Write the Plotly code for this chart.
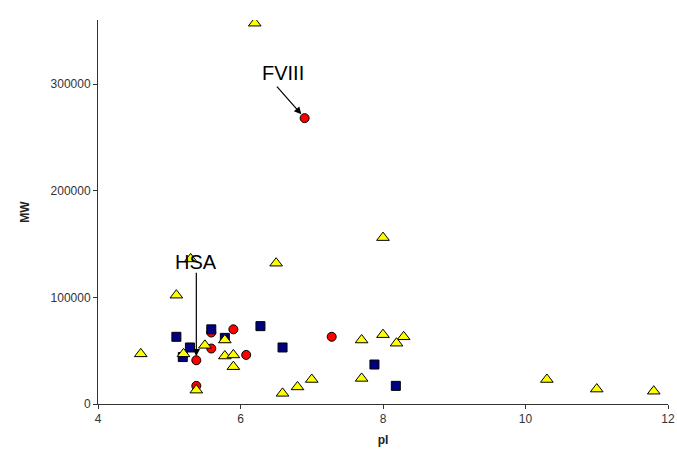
import plotly.graph_objects as go

# Red circles
red_pi = [6.9, 5.38, 5.59, 5.9, 6.08, 5.38, 5.59, 7.28]
red_mw = [268000, 41000, 52000, 70000, 46000, 17000, 67000, 63000]

# Blue squares
blue_pi = [5.1, 5.29, 5.19, 5.59, 5.78, 6.28, 6.59, 7.88, 8.18]
blue_mw = [63000, 53000, 44000, 70000, 62000, 73000, 53000, 37000, 17000]

# Yellow triangles
yel_pi = [6.2, 4.6, 5.1, 5.2, 5.3, 5.5, 5.78, 5.78, 5.9, 5.9, 5.38, 6.5, 6.59,
          8.0, 7.7, 8.0, 8.29, 8.19, 7.7, 7.0, 6.8, 10.3, 11.0, 11.8]
yel_mw = [357000, 47000, 102000, 47000, 136000, 55000, 60000, 45000, 46000, 35000, 13000,
          132000, 10000, 156000, 60000, 65000, 63000, 57000, 24000, 23000, 16000,
          23000, 14000, 12000]

x_ticks = [4, 6, 8, 10, 12]
y_ticks = [0, 100000, 200000, 300000]

fig = go.Figure()
fig.add_trace(go.Scatter(x=red_pi, y=red_mw, mode="markers",
                         marker=dict(symbol="circle", size=9, color="#ff0000",
                                     line=dict(color="#000000", width=1))))
fig.add_trace(go.Scatter(x=blue_pi, y=blue_mw, mode="markers",
                         marker=dict(symbol="square", size=9, color="#000080",
                                     line=dict(color="#000000", width=1))))
fig.add_trace(go.Scatter(x=yel_pi, y=yel_mw, mode="markers",
                         marker=dict(symbol="triangle-up", size=11, color="#ffff00",
                                     line=dict(color="#000000", width=1))))

afont = dict(family="Liberation Sans, Arial, sans-serif", size=20, color="#000000")
# text labels
fig.add_annotation(x=6.6, y=310000, text="FVIII", showarrow=False, font=afont)
fig.add_annotation(x=5.38, y=133000, text="HSA", showarrow=False, font=afont)
# arrows
fig.add_annotation(x=6.9, y=268000, text="", showarrow=True, ax=-29, ay=-33,
                   arrowhead=2, arrowsize=1.2, arrowwidth=1.2, arrowcolor="#000000",
                   standoff=5)
fig.add_annotation(x=5.38, y=41000, text="", showarrow=True, ax=0, ay=-89,
                   arrowhead=2, arrowsize=1.2, arrowwidth=1.2, arrowcolor="#000000",
                   standoff=4)

tfont = dict(family="Liberation Sans, Arial, sans-serif", size=12, color="#333333")
fig.update_layout(
    width=677, height=459,
    margin=dict(l=98, r=9, t=20, b=55),
    paper_bgcolor="white", plot_bgcolor="white",
    showlegend=False,
    xaxis=dict(range=[4, 12], tickvals=x_ticks, ticks="outside", ticklen=4,
               tickcolor="#333333", showline=True, linecolor="#333333", linewidth=1,
               showgrid=False, zeroline=False, tickfont=tfont, automargin=False,
               title=dict(text="<b>pI</b>", font=dict(family="Liberation Sans, Arial, sans-serif",
                                                      size=12, color="#222222"), standoff=10)),
    yaxis=dict(range=[0, 360000], tickvals=y_ticks, ticks="outside", ticklen=4,
               tickcolor="#333333", showline=True, linecolor="#333333", linewidth=1,
               showgrid=False, zeroline=False, tickfont=tfont, tickformat="d",
               automargin=False,
               title=dict(text="<b>MW</b>", font=dict(family="Liberation Sans, Arial, sans-serif",
                                                      size=12, color="#222222"), standoff=18)),
)

fig.write_html("out.html")
